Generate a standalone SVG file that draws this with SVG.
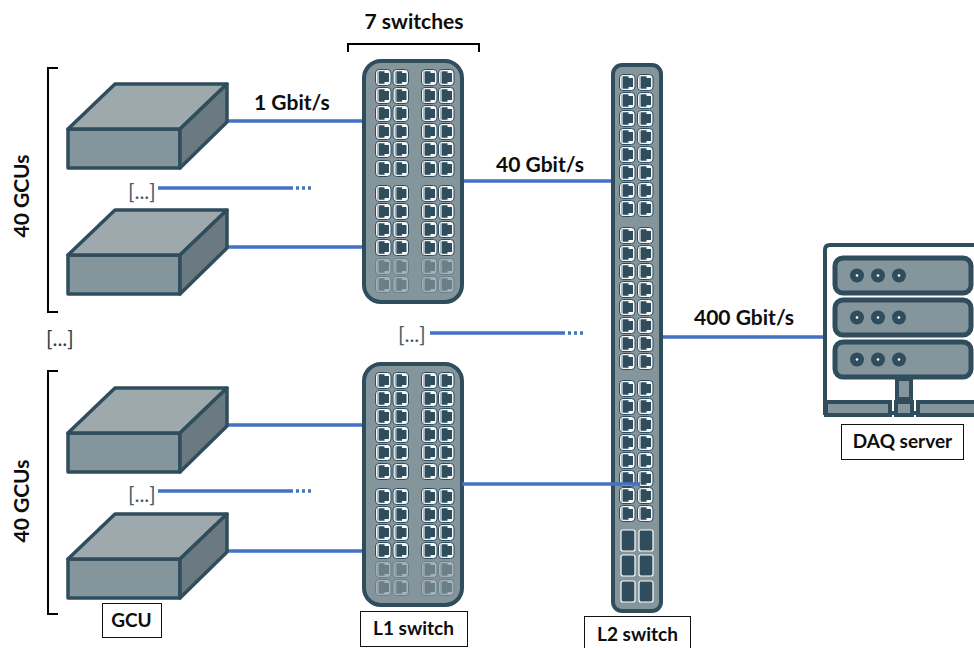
<svg xmlns="http://www.w3.org/2000/svg" width="974" height="648" viewBox="0 0 974 648">
<style>
text{font-family:Lato,Carlito,"Liberation Sans",sans-serif;fill:#0d0d0d}
.b{font-weight:700;font-size:21px}
.s{font-weight:700;font-size:19px}
.e{font-size:21px;fill:#44606f}
.e2{font-size:21px;fill:#2b3f4c}
.link{stroke:#4472c4;stroke-width:3.4;fill:none}
.brk{stroke:#000;stroke-width:2;fill:none}
.lab{fill:#fff;stroke:#111;stroke-width:1}
.dk{stroke:#2f4d5d;stroke-width:3.5;stroke-linejoin:round}
</style>
<defs>
<g id="port">
<rect x="0.5" y="0.5" width="15.500" height="16" rx="3.500" fill="#f4f6f7" stroke="#2f4d5d" stroke-width="1"/>
<path d="M2.200 2.500V14.500H4V2.500Z" fill="#9fadb3"/>
<path d="M4 2.300H9.500V4H14V13H9.500V14.700H4Z" fill="#2f4d5d"/>
</g>
<g id="row"><use href="#port" x="375"/><use href="#port" x="392.500"/><use href="#port" x="421"/><use href="#port" x="438"/></g>
<g id="row2"><use href="#port" x="619"/><use href="#port" x="637"/></g>
<g id="sw1">
<rect x="364" y="61" width="98" height="241" rx="17" fill="#84959c" stroke="#2f4d5d" stroke-width="4"/>
<use href="#row" y="69"/><use href="#row" y="87"/><use href="#row" y="105"/><use href="#row" y="123"/><use href="#row" y="141"/><use href="#row" y="160"/>
<use href="#row" y="185"/><use href="#row" y="203"/><use href="#row" y="221"/><use href="#row" y="239"/>
<g opacity="0.3"><use href="#row" y="258"/><use href="#row" y="276"/></g>
</g>
<g id="box">
<path d="M68 129H180V168H68Z" fill="#84959c" class="dk"/>
<path d="M68 129L115 84H227L180 129Z" fill="#9ea9ae" class="dk"/>
<path d="M180 129L227 84V122L180 168Z" fill="#6b7a80" class="dk"/>
</g>
<g id="srv"><rect x="835" y="258" width="136" height="35" rx="8" fill="#84959c" stroke="#2f4d5d" stroke-width="5"/>
<circle cx="857" cy="275.500" r="7" fill="#2f4d5d"/><circle cx="878" cy="275.500" r="7" fill="#2f4d5d"/><circle cx="899" cy="275.500" r="7" fill="#2f4d5d"/>
<circle cx="857" cy="275.500" r="1.300" fill="#fff"/><circle cx="878" cy="275.500" r="1.300" fill="#fff"/><circle cx="899" cy="275.500" r="1.300" fill="#fff"/></g>
</defs>

<g id="connectors">
<path class="link" d="M228 121H364M228 247H364M228 425H364M228 551H364M462 181H612M662 337H824"/>
<path class="link" d="M158 188H293M430 333H565M158 491H293"/>
<path class="link" stroke-dasharray="3 3" d="M296 188H314M568 333H586M296 491H314"/>
</g>

<g id="bracket-switches"><path class="brk" d="M348 52V44H479V52"/><text class="b" x="414" y="29" text-anchor="middle">7 switches</text></g>
<g id="bracket-gcus-1"><path class="brk" d="M58 68H48V312H58"/><text class="b" transform="translate(29 196) rotate(-90)" text-anchor="middle">40 GCUs</text></g>
<g id="bracket-gcus-2"><path class="brk" d="M58 371H48V614H58"/><text class="b" transform="translate(29 501) rotate(-90)" text-anchor="middle">40 GCUs</text></g>

<g id="gcu-1"><use href="#box"/></g>
<g id="gcu-2"><use href="#box" y="126"/></g>
<g id="gcu-3"><use href="#box" y="304"/></g>
<g id="gcu-4"><use href="#box" y="430"/></g>

<g id="l1-switch-1"><use href="#sw1"/></g>
<g id="l1-switch-2"><use href="#sw1" y="303"/></g>

<g id="l2-switch">
<rect x="613" y="65" width="48" height="546" rx="9" fill="#84959c" stroke="#2f4d5d" stroke-width="4"/>
<use href="#row2" y="74"/><use href="#row2" y="92"/><use href="#row2" y="110"/><use href="#row2" y="128"/><use href="#row2" y="146"/><use href="#row2" y="164"/><use href="#row2" y="182"/><use href="#row2" y="200"/>
<use href="#row2" y="227"/><use href="#row2" y="245"/><use href="#row2" y="263"/><use href="#row2" y="281"/><use href="#row2" y="299"/><use href="#row2" y="317"/><use href="#row2" y="335"/><use href="#row2" y="353"/>
<use href="#row2" y="380"/><use href="#row2" y="398"/><use href="#row2" y="416"/><use href="#row2" y="434"/><use href="#row2" y="452"/><use href="#row2" y="470"/><use href="#row2" y="487"/><use href="#row2" y="505"/>
<g fill="#2f4d5d" stroke="#fff" stroke-width="1.200">
<rect x="621" y="530" width="14" height="21" rx="2"/><rect x="639" y="530" width="14" height="21" rx="2"/>
<rect x="621" y="555" width="14" height="21" rx="2"/><rect x="639" y="555" width="14" height="21" rx="2"/>
<rect x="621" y="581" width="14" height="21" rx="2"/><rect x="639" y="581" width="14" height="21" rx="2"/>
</g>
</g>
<path class="link" d="M462 484H640"/>

<g id="daq-server">
<path d="M974 245H830Q825 245 825 250V413H974" fill="#fff" stroke="#2f4d5d" stroke-width="4"/>
<use href="#srv"/><use href="#srv" y="42"/><use href="#srv" y="84"/>
<rect x="897" y="379" width="14" height="20" fill="#84959c" stroke="#2f4d5d" stroke-width="4"/>
<g fill="#84959c" stroke="#2f4d5d" stroke-width="4">
<rect x="826" y="402" width="64" height="13"/><rect x="896" y="402" width="16" height="13"/><rect x="918" y="402" width="60" height="13"/>
</g>
</g>

<text class="e" x="128" y="199">[...]</text>
<text class="e" x="398" y="342">[...]</text>
<text class="e" x="128" y="502">[...]</text>
<text class="e2" x="46" y="346">[...]</text>

<text class="b" x="254" y="110">1 Gbit/s</text>
<text class="b" x="496" y="172">40 Gbit/s</text>
<text class="b" x="694" y="325">400 Gbit/s</text>

<g id="label-gcu"><rect class="lab" x="102.500" y="603.500" width="59" height="34"/><text class="s" x="131.500" y="627" text-anchor="middle">GCU</text></g>
<g id="label-l1"><rect class="lab" x="360.500" y="611.500" width="107" height="35"/><text class="s" x="413.500" y="635" text-anchor="middle">L1 switch</text></g>
<g id="label-l2"><rect class="lab" x="584.500" y="616.500" width="106" height="36"/><text class="s" x="637.500" y="641" text-anchor="middle">L2 switch</text></g>
<g id="label-daq"><rect class="lab" x="841.500" y="424.500" width="122" height="35"/><text class="s" x="902.500" y="448" text-anchor="middle">DAQ server</text></g>
</svg>
